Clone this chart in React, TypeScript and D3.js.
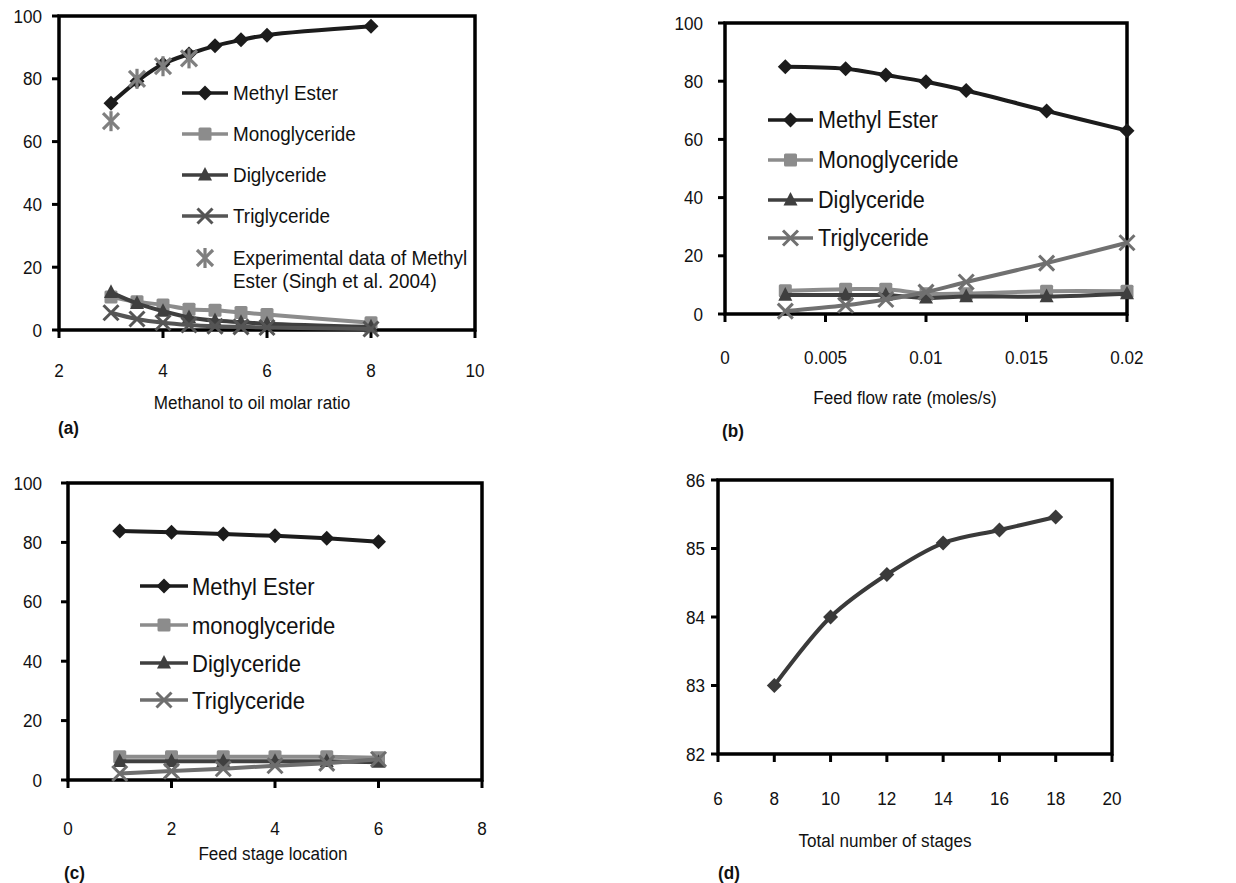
import React from "react";
import * as d3 from "d3";

// (a) methanol to oil molar ratio
const ratioA = [3, 3.5, 4, 4.5, 5, 5.5, 6, 8];
const esterA = [72.2, 79.2, 84.7, 87.9, 90.5, 92.4, 93.9, 96.7];
const monoA = [10.5, 9, 8, 6.6, 6.3, 5.6, 4.9, 2.3];
const diA = [12, 8.5, 6, 4, 3, 2.5, 2, 1];
const triA = [5.5, 3.5, 2.3, 1.6, 1.2, 1, 0.8, 0.3];
const expRatioA = [3, 3.5, 4, 4.5];
const expEsterA = [66.5, 80, 84, 86.5];

// (b) feed flow rate
const flowB = [0.003, 0.006, 0.008, 0.01, 0.012, 0.016, 0.02];
const esterB = [85.0, 84.3, 82.1, 79.8, 76.8, 69.8, 63.0];
const monoB = [8, 8.5, 8.5, 7, 7, 7.8, 7.8];
const diB = [6.5, 6.5, 6.5, 5.5, 6, 6, 7];
const triB = [1, 3, 5, 7.5, 11, 17.5, 24.5];

// (c) feed stage location
const stageC = [1, 2, 3, 4, 5, 6];
const esterC = [83.8, 83.4, 82.8, 82.2, 81.4, 80.2];
const monoC = [7.8, 7.8, 7.8, 7.8, 7.8, 7.5];
const diC = [6.3, 6.3, 6.3, 6.3, 6.3, 6];
const triC = [2.2, 3, 3.8, 4.8, 5.6, 7];

// (d) total number of stages
const stagesD = [8, 10, 12, 14, 16, 18];
const esterD = [83.0, 84.0, 84.62, 85.08, 85.27, 85.46];

const xTicksA = [2, 4, 6, 8, 10];
const xTicksB = [0, 0.005, 0.01, 0.015, 0.02];
const xTickLabelsB = ["0", "0.005", "0.01", "0.015", "0.02"];
const xTicksC = [0, 2, 4, 6, 8];
const xTicksD = [6, 8, 10, 12, 14, 16, 18, 20];
const yTicksPct = [0, 20, 40, 60, 80, 100];
const yTicksD = [82, 83, 84, 85, 86];

const legendABC = ["Methyl Ester", "Monoglyceride", "Diglyceride", "Triglyceride"];
const legendC = ["Methyl Ester", "monoglyceride", "Diglyceride", "Triglyceride"];

const FONT = "'Liberation Sans', Arial, Helvetica, sans-serif";
const C_ME = "#1c1c1c";
const C_MONO = "#8c8c8c";
const C_DI = "#3f3f3f";
const SX = 0.9; // glyphs in the source are a bit narrow/tall

type Shape = "diamond" | "square" | "triangle" | "x" | "star";

// text drawn slightly condensed
function Txt({ x, y, size, anchor = "start", bold = false, children }: any) {
  return (
    <text
      transform={`translate(${x},${y}) scale(${SX},1)`}
      dy="0.35em"
      textAnchor={anchor}
      fontSize={size}
      fontWeight={bold ? "bold" : "normal"}
    >
      {children}
    </text>
  );
}

function Marker({ shape, x, y, color }: { shape: Shape; x: number; y: number; color: string }) {
  if (shape === "diamond") {
    const s = 7.5;
    return <path d={`M${x},${y - s}L${x + s},${y}L${x},${y + s}L${x - s},${y}Z`} fill={color} />;
  }
  if (shape === "square") {
    const s = 6.5;
    return <rect x={x - s} y={y - s} width={s * 2} height={s * 2} rx={1.5} fill={color} />;
  }
  if (shape === "triangle") {
    const s = 7;
    return <path d={`M${x},${y - s - 1}L${x + s},${y + s * 0.8}L${x - s},${y + s * 0.8}Z`} fill={color} />;
  }
  if (shape === "x") {
    const s = 7.5;
    return (
      <g stroke={color} strokeWidth={3}>
        <line x1={x - s} y1={y - s} x2={x + s} y2={y + s} />
        <line x1={x - s} y1={y + s} x2={x + s} y2={y - s} />
      </g>
    );
  }
  const s = 8;
  return (
    <g stroke={color} strokeWidth={3.2}>
      <line x1={x - s} y1={y - s} x2={x + s} y2={y + s} />
      <line x1={x - s} y1={y + s} x2={x + s} y2={y - s} />
      <line x1={x} y1={y - s - 2} x2={x} y2={y + s + 2} />
    </g>
  );
}

type Series = { xs: number[]; ys: number[]; color: string; shape: Shape; line: boolean };

type PanelProps = {
  box: [number, number, number, number];
  xDomain: [number, number];
  yDomain: [number, number];
  xTicks: number[];
  xLabels: string[];
  yTicks: number[];
  yGap: number;
  xLabelY: number;
  title: string;
  titleX: number;
  titleY: number;
  tag: string;
  tagX: number;
  tagY: number;
  series: Series[];
  smooth: boolean;
  legend?: {
    x1: number;
    x2: number;
    tx: number;
    rows: number[];
    size: number;
    labels: string[];
  };
};

function Panel(p: PanelProps) {
  const [left, top, right, bottom] = p.box;
  const x = d3.scaleLinear().domain(p.xDomain).range([left, right]);
  const y = d3.scaleLinear().domain(p.yDomain).range([bottom, top]);
  const line = d3
    .line<[number, number]>()
    .x((d) => x(d[0]))
    .y((d) => y(d[1]))
    .curve(p.smooth ? d3.curveCatmullRom.alpha(0.5) : d3.curveLinear);

  return (
    <g fontFamily={FONT} fill="#111">
      {/* ticks */}
      {p.yTicks.map((t) => (
        <g key={"y" + t}>
          <line x1={left - 7} x2={left} y1={y(t)} y2={y(t)} stroke="#000" strokeWidth={3} />
          <Txt x={left - p.yGap} y={y(t)} size={19} anchor="end">
            {t}
          </Txt>
        </g>
      ))}
      {p.xTicks.map((t, i) => (
        <g key={"x" + t}>
          <line x1={x(t)} x2={x(t)} y1={bottom} y2={bottom + 8} stroke="#000" strokeWidth={3} />
          <Txt x={x(t)} y={p.xLabelY} size={19} anchor="middle">
            {p.xLabels[i]}
          </Txt>
        </g>
      ))}
      <rect x={left} y={top} width={right - left} height={bottom - top} fill="none" stroke="#000" strokeWidth={3.5} />

      {p.series.map((s, i) => {
        const pts = s.xs.map((v, j) => [v, s.ys[j]] as [number, number]);
        return (
          <g key={i}>
            {s.line && (
              <path d={line(pts) || ""} fill="none" stroke={s.color} strokeWidth={4} strokeLinejoin="round" />
            )}
            {pts.map((d, j) => (
              <Marker key={j} shape={s.shape} x={x(d[0])} y={y(d[1])} color={s.color} />
            ))}
          </g>
        );
      })}

      {p.legend &&
        p.legend.labels.map((lab, i) => {
          const s = p.series[i];
          const ly = p.legend!.rows[i];
          return (
            <g key={lab}>
              <line x1={p.legend!.x1} x2={p.legend!.x2} y1={ly} y2={ly} stroke={s.color} strokeWidth={3.5} />
              <Marker shape={s.shape} x={(p.legend!.x1 + p.legend!.x2) / 2} y={ly} color={s.color} />
              <Txt x={p.legend!.tx} y={ly} size={p.legend!.size}>
                {lab}
              </Txt>
            </g>
          );
        })}

      <Txt x={p.titleX} y={p.titleY} size={19} anchor="middle">
        {p.title}
      </Txt>
      <Txt x={p.tagX} y={p.tagY} size={19} bold>
        {p.tag}
      </Txt>
    </g>
  );
}

export default function App() {
  const seriesA: Series[] = [
    { xs: ratioA, ys: esterA, color: C_ME, shape: "diamond", line: true },
    { xs: ratioA, ys: monoA, color: C_MONO, shape: "square", line: true },
    { xs: ratioA, ys: diA, color: C_DI, shape: "triangle", line: true },
    { xs: ratioA, ys: triA, color: "#555555", shape: "x", line: true },
    { xs: expRatioA, ys: expEsterA, color: "#7f7f7f", shape: "star", line: false },
  ];
  const seriesB: Series[] = [
    { xs: flowB, ys: esterB, color: C_ME, shape: "diamond", line: true },
    { xs: flowB, ys: monoB, color: C_MONO, shape: "square", line: true },
    { xs: flowB, ys: diB, color: C_DI, shape: "triangle", line: true },
    { xs: flowB, ys: triB, color: "#707070", shape: "x", line: true },
  ];
  const seriesC: Series[] = [
    { xs: stageC, ys: esterC, color: C_ME, shape: "diamond", line: true },
    { xs: stageC, ys: monoC, color: C_MONO, shape: "square", line: true },
    { xs: stageC, ys: diC, color: C_DI, shape: "triangle", line: true },
    { xs: stageC, ys: triC, color: "#6e6e6e", shape: "x", line: true },
  ];
  const seriesD: Series[] = [{ xs: stagesD, ys: esterD, color: "#3a3a3a", shape: "diamond", line: true }];

  return (
    <svg width={1236} height={883} style={{ position: "absolute", left: 0, top: 0, background: "#fff" }}>
      <rect width={1236} height={883} fill="#fff" />
      <Panel
        box={[59, 16, 475, 330]}
        xDomain={[2, 10]}
        yDomain={[0, 100]}
        xTicks={xTicksA}
        xLabels={xTicksA.map(String)}
        yTicks={yTicksPct}
        yGap={17}
        xLabelY={370}
        title="Methanol to oil molar ratio"
        titleX={252}
        titleY={402}
        tag="(a)"
        tagX={58}
        tagY={427}
        series={seriesA}
        smooth={true}
        legend={{ x1: 182, x2: 228, tx: 233, rows: [93, 134, 175, 216], size: 21, labels: legendABC }}
      />
      <g fontFamily={FONT} fill="#111">
        <Marker shape="star" x={205} y={258} color="#7f7f7f" />
        <Txt x={233} y={258} size={21}>
          Experimental data of Methyl
        </Txt>
        <Txt x={233} y={281} size={21}>
          Ester (Singh et al. 2004)
        </Txt>
      </g>
      <Panel
        box={[725, 23, 1127, 314]}
        xDomain={[0, 0.02]}
        yDomain={[0, 100]}
        xTicks={xTicksB}
        xLabels={xTickLabelsB}
        yTicks={yTicksPct}
        yGap={22}
        xLabelY={357}
        title="Feed flow rate (moles/s)"
        titleX={905}
        titleY={397}
        tag="(b)"
        tagX={722}
        tagY={430}
        series={seriesB}
        smooth={true}
        legend={{ x1: 768, x2: 813, tx: 818, rows: [120, 160, 200, 238], size: 24, labels: legendABC }}
      />
      <Panel
        box={[68, 483, 482, 780]}
        xDomain={[0, 8]}
        yDomain={[0, 100]}
        xTicks={xTicksC}
        xLabels={xTicksC.map(String)}
        yTicks={yTicksPct}
        yGap={26}
        xLabelY={828}
        title="Feed stage location"
        titleX={273}
        titleY={853}
        tag="(c)"
        tagX={64}
        tagY={872}
        series={seriesC}
        smooth={false}
        legend={{ x1: 140, x2: 188, tx: 192, rows: [586, 625, 663, 700], size: 24.5, labels: legendC }}
      />
      <Panel
        box={[718, 480, 1112, 754]}
        xDomain={[6, 20]}
        yDomain={[82, 86]}
        xTicks={xTicksD}
        xLabels={xTicksD.map(String)}
        yTicks={yTicksD}
        yGap={13}
        xLabelY={798}
        title="Total number of stages"
        titleX={885}
        titleY={840}
        tag="(d)"
        tagX={718}
        tagY={872}
        series={seriesD}
        smooth={true}
      />
    </svg>
  );
}
